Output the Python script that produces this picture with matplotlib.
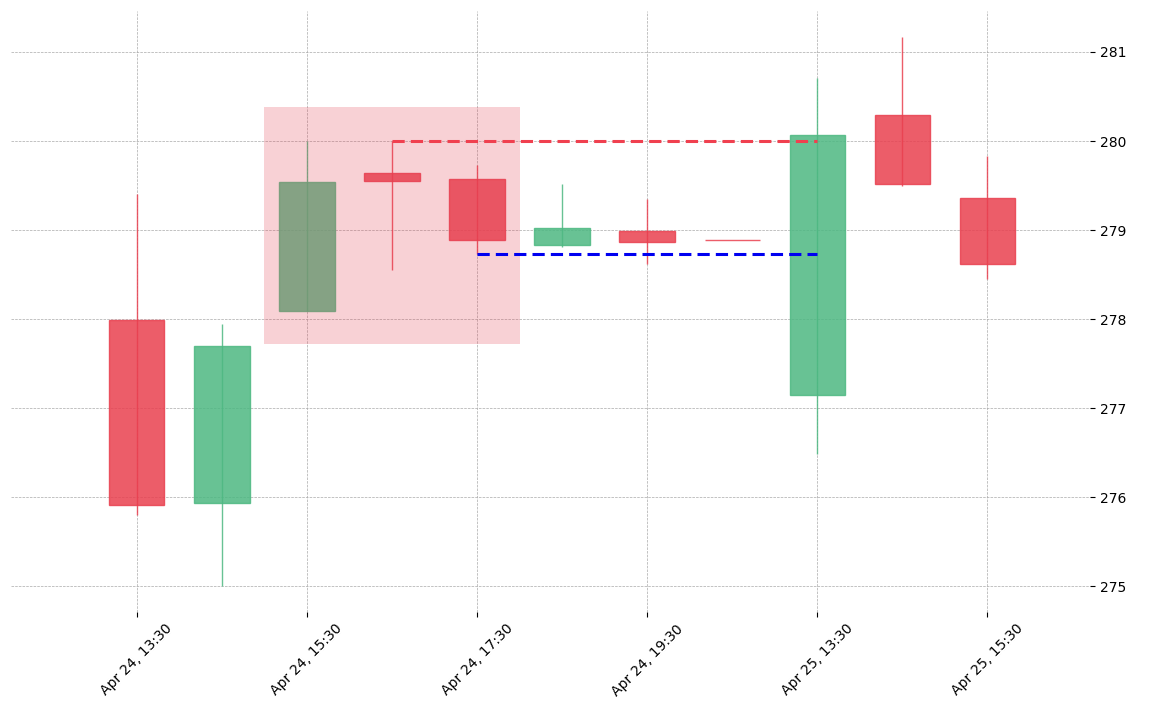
import matplotlib.pyplot as plt
from matplotlib.patches import Rectangle

# Candle data
labels = ['Apr 24, 13:30', 'Apr 24, 14:30', 'Apr 24, 15:30', 'Apr 24, 16:30',
          'Apr 24, 17:30', 'Apr 24, 18:30', 'Apr 24, 19:30', 'Apr 24, 20:30',
          'Apr 25, 13:30', 'Apr 25, 14:30', 'Apr 25, 15:30']
opens = [277.99, 275.94, 278.09, 279.64, 279.57, 278.83, 278.99, 278.89, 277.15, 280.29, 279.36]
highs = [279.40, 277.94, 280.00, 280.00, 279.73, 279.52, 279.35, 278.89, 280.71, 281.17, 279.83]
lows = [275.80, 275.00, 278.09, 278.55, 278.73, 278.81, 278.62, 278.89, 276.48, 279.50, 278.45]
closes = [275.91, 277.70, 279.54, 279.55, 278.89, 279.02, 278.87, 278.89, 280.07, 279.52, 278.62]

# pattern box and levels
box_start, box_end = 1.5, 4.5
box_low, box_high = 277.72, 280.38
resistance = 280.0
res_from, res_to = 3, 8
support = 278.73
sup_from, sup_to = 4, 8

UP = '#4db882'
DOWN = '#e9404f'

fig = plt.figure(figsize=(11.66, 7.10), dpi=100)
ax = fig.add_axes([0.0094, 0.138, 0.9256, 0.8465])

width = 0.65
for i in range(len(opens)):
    color = UP if closes[i] > opens[i] else DOWN
    ax.vlines(i, lows[i], highs[i], color=color, linewidth=1, alpha=0.85, zorder=2)
    bottom = min(opens[i], closes[i])
    height = abs(closes[i] - opens[i])
    if height < 0.01:
        ax.hlines(opens[i], i - width / 2, i + width / 2, color=color, linewidth=1, alpha=0.85, zorder=3)
    else:
        ax.add_patch(Rectangle((i - width / 2, bottom), width, height, facecolor=color,
                               edgecolor=color, linewidth=1, alpha=0.85, zorder=3))

ax.add_patch(Rectangle((box_start, box_low), box_end - box_start, box_high - box_low,
                       facecolor='#e33f52', alpha=0.24, linewidth=0, zorder=4))

ax.hlines(resistance, res_from, res_to, colors='#f0404f', linestyles=(0, (4, 2)), linewidth=2.2, zorder=5)
ax.hlines(support, sup_from, sup_to, colors='#0000f0', linestyles=(0, (4, 2)), linewidth=2.2, zorder=5)

ax.set_xlim(-1.48, 11.21)
ax.set_ylim(274.71, 281.46)
tick_idx = list(range(0, len(labels), 2))
ax.set_xticks(tick_idx)
ax.set_xticklabels([labels[i] for i in tick_idx], rotation=45, fontsize=10)
ax.set_yticks([275, 276, 277, 278, 279, 280, 281])
ax.yaxis.tick_right()
ax.tick_params(axis='both', labelsize=10)
ax.grid(True, linestyle='--', linewidth=0.5, color='#aaaaaa')
ax.set_axisbelow(True)
for s in ax.spines.values():
    s.set_visible(False)

fig.savefig('out.png', dpi=100)
